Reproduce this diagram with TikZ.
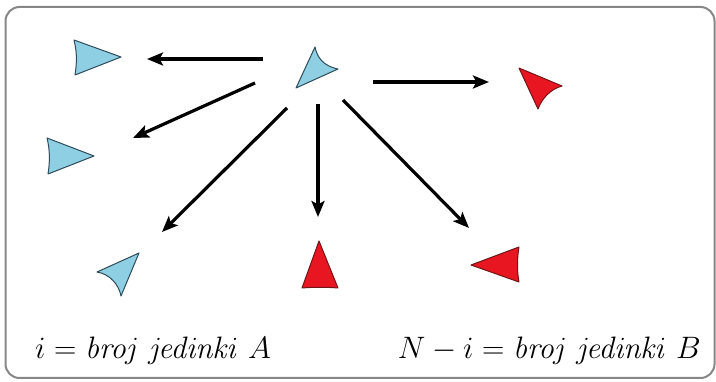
\RequirePackage{fix-cm}
\documentclass[tikz,border=0pt]{standalone}
\usetikzlibrary{arrows.meta}
\definecolor{blufill}{RGB}{142,207,228}
\definecolor{bluedge}{RGB}{45,75,88}
\definecolor{redfill}{RGB}{232,22,32}
\definecolor{rededge}{RGB}{115,20,22}
\definecolor{framegray}{RGB}{135,135,135}
\begin{document}
\begin{tikzpicture}[x=1pt,y=-1pt,
  blutri/.style={fill=blufill,draw=bluedge,line width=1pt,line join=round},
  redtri/.style={fill=redfill,draw=rededge,line width=1pt,line join=round},
  arr/.style={line width=3.2pt,-{Stealth[length=16pt,width=13pt,inset=3.5pt]}},
  lbl/.style={inner sep=0pt,font=\fontsize{31}{38}\selectfont}]
\useasboundingbox (0,0) rectangle (716,382);
\draw[framegray,line width=2pt,rounded corners=14pt] (5.5,7) rectangle (714.5,378);

% triangles
\draw[blutri] (74,40) -- (121,57) -- (75,75) .. controls (77,62) and (77,52) .. cycle;
\draw[blutri] (47,138) -- (94,156) -- (48,174) .. controls (50,162) and (50,150) .. cycle;
\draw[blutri] (315,47) .. controls (317,57) and (323,66) .. (338,69) -- (296,88) -- cycle;
\draw[redtri] (519,68) -- (562,86) .. controls (551,89) and (542,98) .. (538,109) -- cycle;
\draw[redtri] (319,241) -- (338,288) .. controls (326,287) and (314,287) .. (302,288) -- cycle;
\draw[redtri] (471,265) -- (519,247) .. controls (517,258) and (517,272) .. (519,282) -- cycle;
\draw[blutri] (139,253) -- (121,296) .. controls (119,285) and (110,274) .. (97,272) -- cycle;

% arrow end points
\coordinate (s1) at (263,59);  \coordinate (e1) at (147,59);
\coordinate (s2) at (255,83);  \coordinate (e2) at (133,138);
\coordinate (s3) at (287,108); \coordinate (e3) at (162,232);
\coordinate (s4) at (318,104); \coordinate (e4) at (318,217);
\coordinate (s5) at (343,100); \coordinate (e5) at (469,228);
\coordinate (s6) at (373,82);  \coordinate (e6) at (489,82);

\draw[arr] (s1) -- (e1);
\draw[arr] (s2) -- (e2);
\draw[arr] (s3) -- (e3);
\draw[arr] (s4) -- (e4);
\draw[arr] (s5) -- (e5);
\draw[arr] (s6) -- (e6);

% labels
\node[lbl,anchor=base west] (la) at (35,359) {$i = \mathit{broj}\ \mathit{jedinki}\ A$};
\node[lbl,anchor=base east] (lb) at (701,359) {$N - i = \mathit{broj}\ \mathit{jedinki}\ B$};
\end{tikzpicture}
\end{document}
